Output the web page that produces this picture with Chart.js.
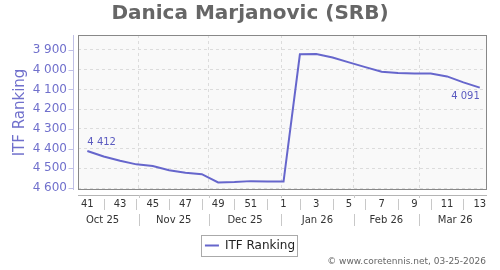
<!DOCTYPE html>
<html><head><meta charset="utf-8">
<script src="https://cdn.jsdelivr.net/npm/chart.js@4/dist/chart.umd.min.js"></script>
<style>html,body{margin:0;padding:0;background:#fff}</style>
</head><body>
<canvas id="c" width="500" height="270"></canvas>
<script>
const chartTitle = 'Danica Marjanovic (SRB)';
const seriesName = 'ITF Ranking';
const weekLabels = ['41','42','43','44','45','46','47','48','49','50','51','52','1','2','3','4','5','6','7','8','9','10','11','12','13'];
const weekDates = ['2025-10-10','2025-10-17','2025-10-24','2025-10-31','2025-11-07','2025-11-14','2025-11-21','2025-11-28','2025-12-05','2025-12-12','2025-12-19','2025-12-26','2026-01-02','2026-01-09','2026-01-16','2026-01-23','2026-01-30','2026-02-06','2026-02-13','2026-02-20','2026-02-27','2026-03-06','2026-03-13','2026-03-20','2026-03-27'];
const itfRanking = [4412,4440,4462,4480,4488,4510,4522,4530,4572,4570,4565,4567,4567,3922,3920,3938,3963,3987,4010,4017,4019,4019,4034,4064,4091];
const monthLabels = ['Oct 25','Nov 25','Dec 25','Jan 26','Feb 26','Mar 26'];
const monthStarts = ['2025-10-01','2025-11-01','2025-12-01','2026-01-01','2026-02-01','2026-03-01','2026-04-01'];
const yTickValues = [3900,4000,4100,4200,4300,4400,4500,4600];
const copyrightText = '\u00A9 www.coretennis.net, 03-25-2026';

const DAY = 86400000;
const toDay = s => Date.parse(s + 'T00:00:00Z') / DAY;
const fmt = v => String(Math.round(v)).replace(/\B(?=(\d{3})+(?!\d))/g, ' ');
const FONT = 'DejaVu Sans';
Chart.defaults.font.family = FONT;

const xMin = toDay(weekDates[0]) - 4.0;
const xMax = toDay(weekDates[weekDates.length - 1]) + 3.1;

const decor = {
  id: 'decor',
  beforeDraw(chart) {
    const {ctx, chartArea: a} = chart;
    ctx.save();
    ctx.fillStyle = '#f9f9f9';
    ctx.fillRect(a.left, a.top, a.right - a.left, a.bottom - a.top);
    ctx.restore();
  },
  afterDraw(chart) {
    const {ctx, chartArea: a, scales} = chart;
    const x = scales.x, y = scales.y;
    ctx.save();
    ctx.strokeStyle = '#888';
    ctx.lineWidth = 1;
    ctx.strokeRect(a.left + 0.5, a.top + 0.5, a.right - a.left - 1, a.bottom - a.top - 1);
    const yx = a.left - 4.5;
    ctx.strokeStyle = '#c0c0e6';
    ctx.beginPath();
    ctx.moveTo(yx, a.top); ctx.lineTo(yx, a.bottom);
    yTickValues.forEach(v => {
      const py = Math.round(y.getPixelForValue(v)) + 0.5;
      ctx.moveTo(yx - 5, py); ctx.lineTo(yx, py);
    });
    ctx.stroke();
    const xy = a.bottom + 5.5;
    ctx.strokeStyle = '#b4b4b4';
    ctx.beginPath();
    ctx.moveTo(a.left, xy); ctx.lineTo(a.right, xy);
    ctx.stroke();
    ctx.fillStyle = '#333';
    ctx.font = '10px "' + FONT + '"';
    ctx.textAlign = 'center';
    ctx.textBaseline = 'middle';
    ctx.strokeStyle = '#c8c8c8';
    ctx.beginPath();
    weekDates.forEach((d, i) => {
      const px = x.getPixelForValue(toDay(d));
      if (i % 2 === 0) {
        ctx.fillText(weekLabels[i], px, a.bottom + 14.5);
      } else {
        const sx = Math.round(px) + 0.5;
        ctx.moveTo(sx, a.bottom + 9); ctx.lineTo(sx, a.bottom + 20);
      }
    });
    monthLabels.forEach((m, i) => {
      const p0 = x.getPixelForValue(toDay(monthStarts[i]));
      const p1 = x.getPixelForValue(toDay(monthStarts[i + 1]));
      ctx.fillText(m, (p0 + p1) / 2, a.bottom + 30.5);
      if (i > 0) {
        const sx = Math.round(p0) + 0.5;
        ctx.moveTo(sx, a.bottom + 24); ctx.lineTo(sx, a.bottom + 36);
        ctx.moveTo(sx, a.bottom + 5); ctx.lineTo(sx, a.bottom + 8);
      }
    });
    ctx.stroke();
    const meta = chart.getDatasetMeta(0);
    const first = meta.data[0], last = meta.data[meta.data.length - 1];
    ctx.fillStyle = '#5b5bc0';
    ctx.font = '10px "' + FONT + '"';
    ctx.textAlign = 'left';
    ctx.fillText(fmt(itfRanking[0]), first.x, first.y - 9);
    ctx.textAlign = 'right';
    ctx.fillText(fmt(itfRanking[itfRanking.length - 1]), last.x, last.y + 8.5);
    const hb = chart.legend.legendHitBoxes[0];
    if (hb) {
      const cy = hb.top + hb.height / 2;
      ctx.strokeStyle = '#aaa';
      ctx.strokeRect(Math.round(hb.left - 3.5) + 0.5, Math.round(cy - 10.5) + 0.5, Math.round(hb.width + 6), 21);
    }
    ctx.fillStyle = '#666';
    ctx.font = '9px "' + FONT + '"';
    ctx.textAlign = 'right';
    ctx.fillText(copyrightText, 486, 262);
    ctx.restore();
  }
};

new Chart(document.getElementById('c'), {
  type: 'line',
  data: {
    datasets: [{
      label: seriesName,
      data: weekDates.map((d, i) => ({x: toDay(d), y: itfRanking[i]})),
      yAxisID: 'y',
      borderColor: '#6666cc',
      backgroundColor: '#6666cc',
      borderWidth: 2,
      pointRadius: 0,
      tension: 0,
      fill: false
    }]
  },
  options: {
    responsive: false,
    animation: false,
    devicePixelRatio: 1,
    layout: {padding: {left: 0, right: 0, top: 0, bottom: 8.5}},
    plugins: {
      title: {display: true, text: chartTitle, color: '#666', font: {size: 20, weight: 'bold', family: FONT}, padding: {top: 2, bottom: 9}},
      legend: {position: 'bottom', labels: {usePointStyle: true, pointStyle: 'line', pointStyleWidth: 14, font: {size: 12, family: FONT}, color: '#222', padding: 10}},
      tooltip: {enabled: false}
    },
    scales: {
      x: {
        type: 'linear', min: xMin, max: xMax,
        afterBuildTicks: s => { s.ticks = monthStarts.map(toDay).filter(v => v > xMin && v < xMax).map(v => ({value: v})); },
        afterFit: s => { s.height = 39.5; },
        ticks: {display: false},
        grid: {color: '#dcdcdc', borderDash: [3, 3], drawTicks: false},
        border: {display: false, dash: [3, 3]}
      },
      y: {
        type: 'linear', position: 'left', reverse: true, min: 3824, max: 4610,
        afterBuildTicks: s => { s.ticks = yTickValues.map(v => ({value: v})); },
        afterFit: s => { s.width = 78; },
        ticks: {color: '#7070cc', font: {size: 12, family: FONT}, padding: 11, callback: v => fmt(v)},
        title: {display: true, text: seriesName, color: '#7070cc', font: {size: 15, family: FONT}, padding: {top: 11, bottom: 0}},
        grid: {color: '#dcdcdc', borderDash: [3, 3], drawTicks: false},
        border: {display: false, dash: [3, 3]}
      },
      yRight: {
        type: 'linear', axis: 'y', position: 'right', display: true,
        ticks: {display: false},
        grid: {display: false, drawTicks: false},
        border: {display: false},
        afterFit: s => { s.width = 13; }
      }
    }
  },
  plugins: [decor]
});
</script>
</body></html>
